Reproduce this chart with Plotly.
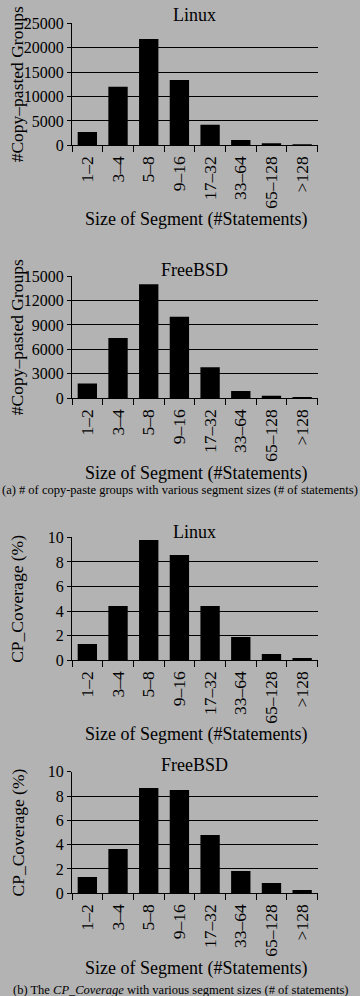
import plotly.graph_objects as go

categories = ["1–2", "3–4", "5–8", "9–16", "17–32", "33–64", "65–128", ">128"]
linux_groups = [2700, 12000, 21800, 13400, 4200, 1100, 250, 50]
freebsd_groups = [1800, 7400, 14000, 10000, 3800, 900, 300, 150]
linux_coverage = [1.33, 4.42, 9.78, 8.56, 4.42, 1.9, 0.51, 0.19]
freebsd_coverage = [1.34, 3.64, 8.66, 8.49, 4.79, 1.84, 0.85, 0.27]

panel_titles = ["Linux", "FreeBSD", "Linux", "FreeBSD"]
y_titles = ["#Copy–pasted Groups", "#Copy–pasted Groups", "CP_Coverage (%)", "CP_Coverage (%)"]
y_max = [25000, 15000, 10, 10]
y_step = [5000, 3000, 2, 2]
x_title = "Size of Segment (#Statements)"
caption_a = "(a) # of copy-paste groups with various segment sizes (# of statements)"
caption_b = "(b) The <i>CP_Coverage</i> with various segment sizes (# of statements)"

series = [linux_groups, freebsd_groups, linux_coverage, freebsd_coverage]

W, H = 360, 996
FONT = "Liberation Serif, Times New Roman, serif"
BG = "#b3b3b3"

# pixel layout of panels (top, bottom)
panels_px = [(23.3, 145.3), (276.0, 398.3), (537.3, 660.3), (771.7, 893.3)]
title_px = [14.5, 269.0, 530.5, 764.0]
xtitle_px = [219.0, 473.0, 733.0, 967.5]
x_left, x_right = 72.0, 317.5


def py(p):
    return 1 - p / H


fig = go.Figure()
layout = dict(
    width=W, height=H, autosize=False,
    margin=dict(l=0, r=0, t=0, b=0, pad=0),
    paper_bgcolor=BG, plot_bgcolor=BG,
    showlegend=False,
    font=dict(family=FONT, color="black"),
    annotations=[],
)

for i, vals in enumerate(series):
    n = i + 1
    xa = "x" if n == 1 else f"x{n}"
    ya = "y" if n == 1 else f"y{n}"
    fig.add_trace(go.Bar(x=categories, y=vals, xaxis=xa, yaxis=ya,
                         marker=dict(color="black", line=dict(width=0)),
                         width=0.63))
    top, bot = panels_px[i]
    layout["xaxis" if n == 1 else f"xaxis{n}"] = dict(
        domain=[x_left / W, x_right / W], anchor=ya, type="category",
        categoryorder="array", categoryarray=categories,
        range=[-0.5, 7.5], showline=True, linecolor="black", linewidth=1,
        ticks="outside", tickson="boundaries", ticklen=6, tickcolor="black",
        tickwidth=1, tickangle=-90, ticklabelstandoff=3,
        tickfont=dict(family=FONT, size=17.5, color="black"),
        showgrid=False, zeroline=False, fixedrange=True, automargin=False,
    )
    layout["yaxis" if n == 1 else f"yaxis{n}"] = dict(
        domain=[py(bot), py(top)], anchor=xa,
        range=[0, y_max[i]], dtick=y_step[i], tick0=0, tickformat="d",
        showline=True, linecolor="black", linewidth=1,
        ticks="outside", ticklen=4, tickcolor="black", tickwidth=1,
        showgrid=True, gridcolor="black", gridwidth=1, zeroline=False,
        tickfont=dict(family=FONT, size=16, color="black"),
        fixedrange=True, automargin=False,
    )
    layout["annotations"].append(dict(
        text=panel_titles[i], xref="paper", yref="paper",
        x=(x_left + x_right) / 2 / W, y=py(title_px[i] + 1), xanchor="center", yanchor="middle",
        showarrow=False, font=dict(family=FONT, size=18, color="black")))
    layout["annotations"].append(dict(
        text=x_title, xref="paper", yref="paper",
        x=196.5 / W, y=py(xtitle_px[i] + 1), xanchor="center", yanchor="middle",
        showarrow=False, font=dict(family=FONT, size=18, color="black")))
    layout["annotations"].append(dict(
        text=y_titles[i], xref="paper", yref="paper", textangle=-90,
        x=17 / W, y=py((top + bot) / 2), xanchor="center", yanchor="middle",
        showarrow=False, font=dict(family=FONT, size=17.5, color="black")))

layout["annotations"].append(dict(
    text=caption_a, xref="paper", yref="paper", x=0.5, y=py(490),
    xanchor="center", yanchor="middle", showarrow=False,
    font=dict(family=FONT, size=12.5, color="black")))
layout["annotations"].append(dict(
    text=caption_b, xref="paper", yref="paper", x=0.5, y=py(990),
    xanchor="center", yanchor="middle", showarrow=False,
    font=dict(family=FONT, size=12.5, color="black")))

fig.update_layout(**layout)
fig.write_html("out.html", config={"displayModeBar": False},
               post_script="document.body.style.margin='0';document.body.style.padding='0';")
